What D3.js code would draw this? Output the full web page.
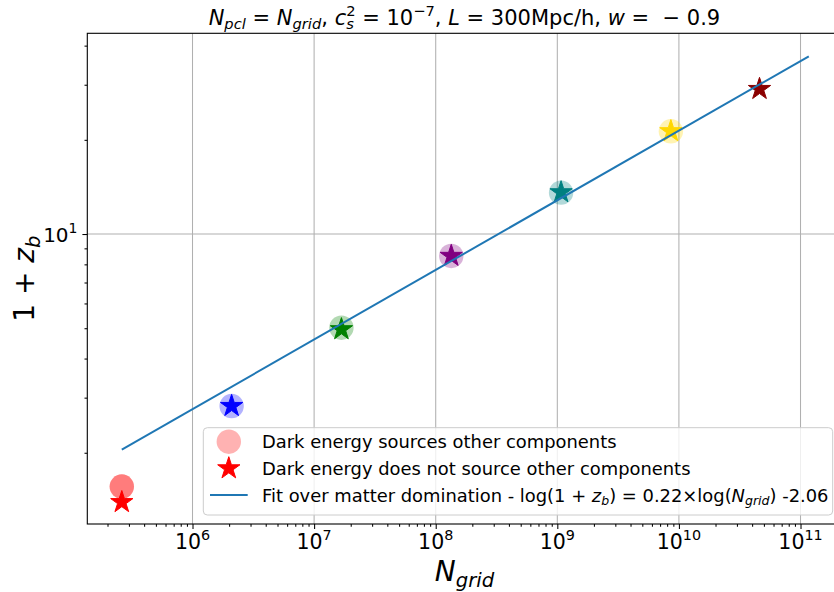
<!DOCTYPE html>
<html>
<head>
<meta charset="utf-8">
<script src="https://cdn.jsdelivr.net/npm/d3@7"></script>
<style>
  body { margin: 0; background: #fff; }
  svg { display: block; }
  text { font-family: "DejaVu Sans", sans-serif; fill: #000; }
</style>
</head>
<body>
<svg id="chart" width="834" height="592"></svg>
<script>
// ---- data ----
const runColors   = ["red", "blue", "green", "purple", "teal", "gold", "darkred"];
const runNGrid    = [262144, 2097152, 16777216, 134217728, 1073741824, 8589934592, 4.6e10];
const zbNotSourced = [1.39, 2.82, 4.96, 8.51, 13.59, 21.3, 29.06];

// runs where dark energy sources the other components (64^3 was run twice)
const sourcedColors = ["red", "red", "blue", "green", "purple", "teal", "gold"];
const sourcedNGrid  = [262144, 262144, 2097152, 16777216, 134217728, 1073741824, 8589934592];
const zbSourced     = [1.56, 1.56, 2.82, 5.02, 8.51, 13.56, 21.3];

// fit over matter domination: ln(1+z_b) = slope * ln(N_grid) + intercept
const fitSlope = 0.2225;
const fitIntercept = -2.06;
const fitNRange = [262144, 1.17e11];

const xDomain = [1.364e5, 2.173e11];
const yDomain = [1.184, 43.8];
const xMajorExponents = [6, 7, 8, 9, 10, 11];
const yMajorExponents = [1];

const legendLabels = [
  "Dark energy sources other components",
  "Dark energy does not source other components"
];

// ---- layout ----
const svg = d3.select("#chart");
const plot = { left: 87.3, top: 33.3, right: 841.5, bottom: 524 };

const x = d3.scaleLog().domain(xDomain).range([plot.left, plot.right]);
const y = d3.scaleLog().domain(yDomain).range([plot.bottom, plot.top]);

function minorTicks(domain) {
  const out = [];
  const lo = Math.floor(Math.log10(domain[0])), hi = Math.ceil(Math.log10(domain[1]));
  for (let e = lo; e <= hi; e++) {
    for (let m = 2; m <= 9; m++) {
      const v = m * Math.pow(10, e);
      if (v >= domain[0] && v <= domain[1]) out.push(v);
    }
  }
  return out;
}
const xMajors = xMajorExponents.map(e => Math.pow(10, e));
const yMajors = yMajorExponents.map(e => Math.pow(10, e));

// small mathtext-like renderer: one <text> with tspans for plain / italic / sub / sup runs;
// a "stack" run is placed at the same x as the run before it (c_s^2 style)
function mathText(parent, runs, o) {
  const fs = o.size;
  const g = parent.append("g");
  const text = g.append("text").style("white-space", "pre");
  let cursor = 0, lastStart = 0;
  runs.forEach(r => {
    const size = r.pos ? fs * 0.7 : fs;
    const dy = r.pos === "sub" ? fs * 0.2 : r.pos === "sup" ? -fs * 0.42 : 0;
    const start = r.stack ? lastStart : cursor;
    const span = text.append("tspan")
      .attr("x", start).attr("y", dy)
      .attr("font-size", size)
      .attr("font-style", r.it ? "italic" : "normal")
      .text(r.t);
    const w = span.node().getComputedTextLength();
    lastStart = start;
    cursor = Math.max(cursor, start + w);
  });
  const shift = o.anchor === "middle" ? -cursor / 2 : o.anchor === "end" ? -cursor : 0;
  const rot = o.rotate ? ` rotate(${o.rotate})` : "";
  g.attr("transform", `translate(${o.x},${o.y})${rot} translate(${shift},0)`);
  return g;
}

// ---- grid ----
const grid = svg.append("g").attr("stroke", "#b0b0b0").attr("stroke-width", 1.05);
grid.selectAll("line.gx").data(xMajors).join("line")
  .attr("x1", d => x(d)).attr("x2", d => x(d))
  .attr("y1", plot.top).attr("y2", plot.bottom);
grid.selectAll("line.gy").data(yMajors).join("line")
  .attr("y1", d => y(d)).attr("y2", d => y(d))
  .attr("x1", plot.left).attr("x2", plot.right);

// ---- markers ----
const markers = svg.append("g");
markers.selectAll("circle").data(sourcedNGrid).join("circle")
  .attr("cx", d => x(d))
  .attr("cy", (d, i) => y(zbSourced[i]))
  .attr("r", 12.2)
  .attr("fill", (d, i) => sourcedColors[i])
  .attr("fill-opacity", 0.3);

const starR = 11.7;
const star = d3.symbol(d3.symbolStar, starR * starR / 0.8908130915292852);
markers.selectAll("path").data(runNGrid).join("path")
  .attr("d", star())
  .attr("transform", (d, i) => `translate(${x(d)},${y(zbNotSourced[i])})`)
  .attr("fill", (d, i) => runColors[i])
  .attr("stroke", (d, i) => runColors[i])
  .attr("stroke-width", 1);

// ---- fit line ----
const fitZ = n => Math.exp(fitSlope * Math.log(n) + fitIntercept);
svg.append("path")
  .datum(fitNRange)
  .attr("d", d3.line().x(d => x(d)).y(d => y(fitZ(d))))
  .attr("fill", "none")
  .attr("stroke", "#1f77b4")
  .attr("stroke-width", 2);

// ---- axes ----
const axisG = svg.append("g");
const xAxis = axisG.append("g").attr("transform", `translate(0,${plot.bottom})`);
xAxis.call(d3.axisBottom(x).tickValues(xMajors).tickSize(4.9).tickFormat(""));
xAxis.append("g").call(d3.axisBottom(x).tickValues(minorTicks(xDomain)).tickSize(2.8).tickFormat(""));
const yAxis = axisG.append("g").attr("transform", `translate(${plot.left},0)`);
yAxis.call(d3.axisLeft(y).tickValues(yMajors).tickSize(4.9).tickFormat(""));
yAxis.append("g").call(d3.axisLeft(y).tickValues(minorTicks(yDomain)).tickSize(2.8).tickFormat(""));
axisG.selectAll(".domain").remove();
axisG.selectAll(".tick line").attr("stroke", "#000").attr("stroke-width", 1.05);

// spines
const spines = svg.append("g").attr("stroke", "#000").attr("stroke-width", 1.1).attr("fill", "none");
spines.append("rect")
  .attr("x", plot.left).attr("y", plot.top)
  .attr("width", plot.right - plot.left).attr("height", plot.bottom - plot.top);

// tick labels
xMajorExponents.forEach(e => {
  mathText(svg, [{ t: "10" }, { t: String(e), pos: "sup" }],
    { x: x(Math.pow(10, e)), y: 549, size: 20.5, anchor: "middle" });
});
yMajorExponents.forEach(e => {
  mathText(svg, [{ t: "10" }, { t: String(e), pos: "sup" }],
    { x: 77.5, y: y(Math.pow(10, e)) + 7.5, size: 20, anchor: "end" });
});

// axis labels
mathText(svg, [{ t: "N", it: true }, { t: "grid", it: true, pos: "sub" }],
  { x: (plot.left + plot.right) / 2, y: 581, size: 28, anchor: "middle" });
mathText(svg, [{ t: "1 + " }, { t: "z", it: true }, { t: "b", it: true, pos: "sub" }],
  { x: 34, y: (plot.top + plot.bottom) / 2, size: 28, anchor: "middle", rotate: -90 });

// title
mathText(svg, [
  { t: "N", it: true }, { t: "pcl", it: true, pos: "sub" },
  { t: " = " },
  { t: "N", it: true }, { t: "grid", it: true, pos: "sub" },
  { t: ", " },
  { t: "c", it: true }, { t: "s", it: true, pos: "sub" }, { t: "2", pos: "sup", stack: true },
  { t: " = 10" }, { t: "\u22127", pos: "sup" },
  { t: ", " },
  { t: "L", it: true }, { t: " = 300Mpc/h, " },
  { t: "w", it: true }, { t: " =  \u2212 0.9" }
], { x: (plot.left + plot.right) / 2, y: 25, size: 21, anchor: "middle" });

// ---- legend ----
const leg = svg.append("g");
const lb = { x: 203.3, y: 427.7, w: 629.4, h: 87.3 };
leg.append("rect")
  .attr("x", lb.x).attr("y", lb.y).attr("width", lb.w).attr("height", lb.h)
  .attr("rx", 4).attr("ry", 4)
  .attr("fill", "#fff").attr("fill-opacity", 0.8)
  .attr("stroke", "#cccccc").attr("stroke-width", 1);

const rowY = [441.7, 468.4, 495.1];
const mkX = 228.8, textX = 262, legFs = 17.9;
leg.append("circle").attr("cx", mkX).attr("cy", rowY[0]).attr("r", 12.2)
  .attr("fill", runColors[0]).attr("fill-opacity", 0.3);
leg.append("path").attr("d", star())
  .attr("transform", `translate(${mkX},${rowY[1]})`)
  .attr("fill", runColors[0]).attr("stroke", runColors[0]).attr("stroke-width", 1);
leg.append("line")
  .attr("x1", 210).attr("x2", 247.7).attr("y1", rowY[2]).attr("y2", rowY[2])
  .attr("stroke", "#1f77b4").attr("stroke-width", 2);

legendLabels.forEach((lab, i) => {
  mathText(leg, [{ t: lab }], { x: textX, y: rowY[i] + 6.5, size: legFs });
});
const fmt = v => v.toFixed(2);
mathText(leg, [
  { t: "Fit over matter domination - log(1 + " },
  { t: "z", it: true }, { t: "b", it: true, pos: "sub" },
  { t: ") = " + fmt(fitSlope) + "\u00d7log(" },
  { t: "N", it: true }, { t: "grid", it: true, pos: "sub" },
  { t: ") " + fmt(fitIntercept) }
], { x: textX, y: rowY[2] + 6.5, size: legFs });
</script>
</body>
</html>
